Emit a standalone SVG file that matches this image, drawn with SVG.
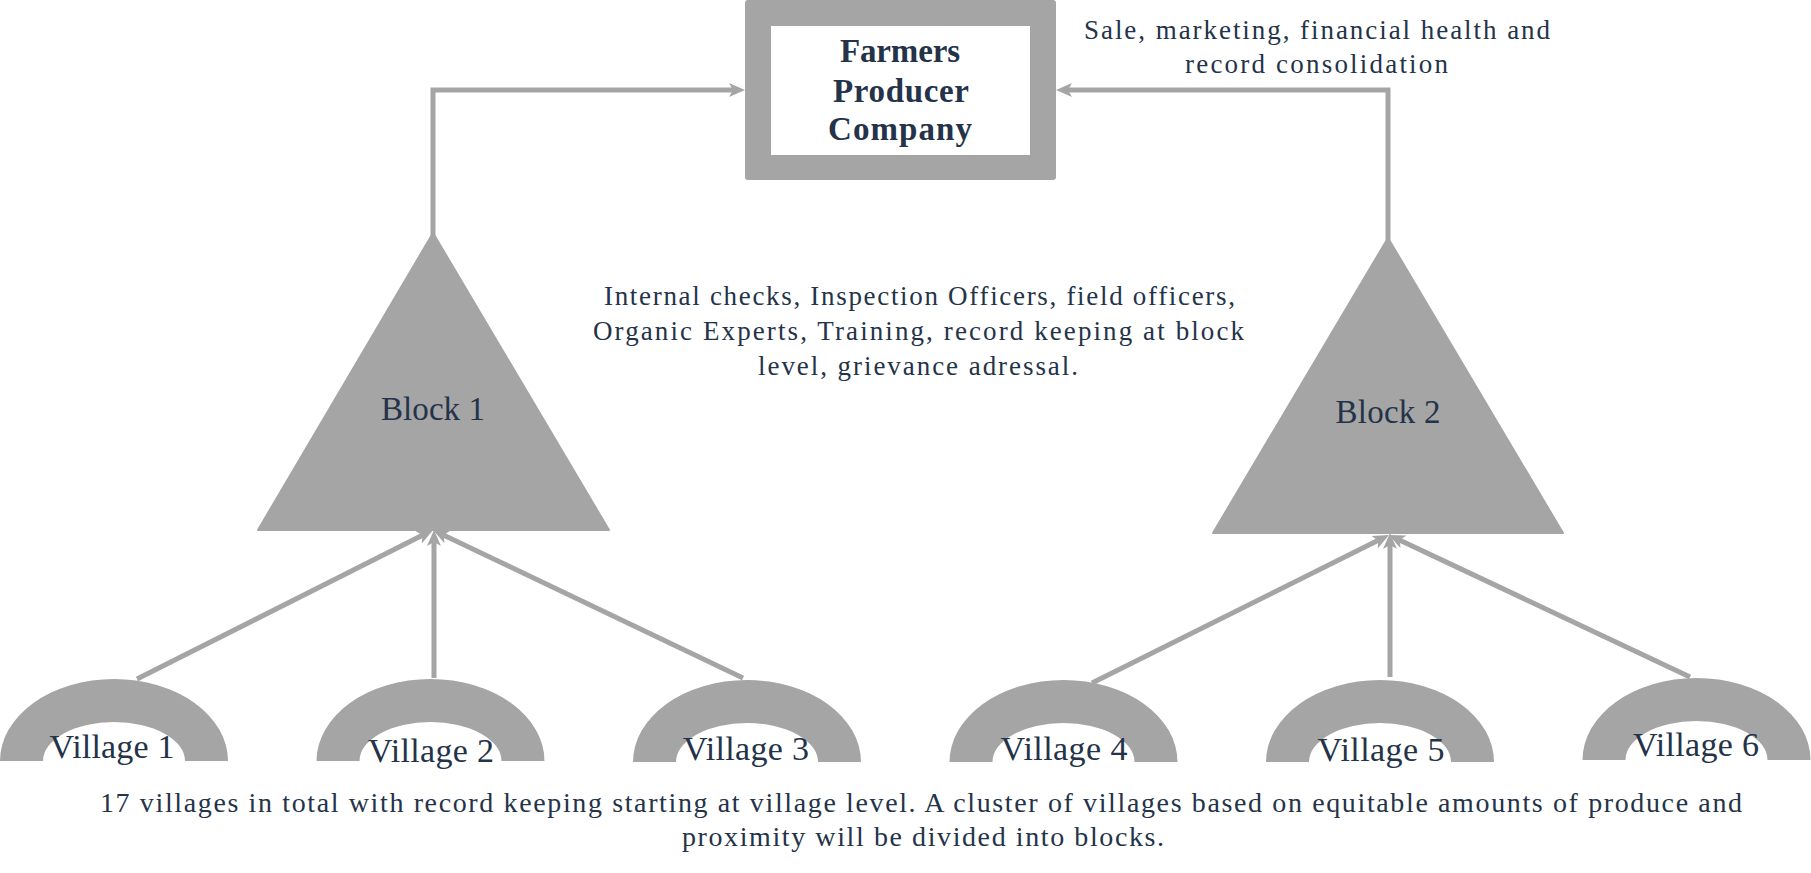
<svg xmlns="http://www.w3.org/2000/svg" width="1811" height="873" viewBox="0 0 1811 873">
  <style>
    .shape { fill: #A5A5A6; }
    .conn { stroke: #A5A5A6; stroke-width: 5; fill: none; }
    .t { font-family: "Liberation Serif", "Times New Roman", serif; fill: #243349; text-anchor: middle; }
    .note { font-size: 27px; }
    .foot { font-size: 28px; }
    .lbl { font-size: 34px; }
    .blk { font-size: 33px; }
    .title { font-size: 33px; font-weight: bold; }
  </style>
  <defs>
    <marker id="arr" markerUnits="userSpaceOnUse" markerWidth="16" markerHeight="16" viewBox="0 0 16 16" refX="8" refY="8" orient="auto">
      <path d="M0,1 L16,8 L0,15 L4,8 z" fill="#A5A5A6"/>
    </marker>
  </defs>
  <rect width="1811" height="873" fill="#ffffff"/>

  <g id="connectors">
    <path class="conn" d="M433,236 V90 H737" marker-end="url(#arr)"/>
    <path class="conn" d="M1388,240 V90 H1064" marker-end="url(#arr)"/>
    <path class="conn" d="M137,679 L425.9,533.6" marker-end="url(#arr)"/>
    <path class="conn" d="M434,678 L434,538" marker-end="url(#arr)"/>
    <path class="conn" d="M743,678 L440.2,533.4" marker-end="url(#arr)"/>
    <path class="conn" d="M1092,683 L1381.8,538.6" marker-end="url(#arr)"/>
    <path class="conn" d="M1390,677 L1390,541" marker-end="url(#arr)"/>
    <path class="conn" d="M1690,677 L1396.2,538.4" marker-end="url(#arr)"/>
  </g>

  <g id="fpc">
    <rect class="shape" x="745" y="0" width="311" height="180" rx="3"/>
    <rect x="771" y="26" width="259" height="129" fill="#ffffff"/>
    <text class="t title" x="900" y="62" textLength="120" lengthAdjust="spacing">Farmers</text>
    <text class="t title" x="901" y="102" textLength="136" lengthAdjust="spacing">Producer</text>
    <text class="t title" x="900" y="140" textLength="144" lengthAdjust="spacing">Company</text>
  </g>

  <g id="note-top">
    <text class="t note" x="1317" y="39" textLength="466" lengthAdjust="spacing">Sale, marketing, financial health and</text>
    <text class="t note" x="1316.5" y="73" textLength="263" lengthAdjust="spacing">record consolidation</text>
  </g>

  <g id="note-mid">
    <text class="t note" x="919.5" y="305" textLength="631" lengthAdjust="spacing">Internal checks, Inspection Officers, field officers,</text>
    <text class="t note" x="918.5" y="340" textLength="651" lengthAdjust="spacing">Organic Experts, Training, record keeping at block</text>
    <text class="t note" x="918" y="375" textLength="320" lengthAdjust="spacing">level, grievance adressal.</text>
  </g>

  <g id="block1">
    <polygon class="shape" points="433,233 609,530 258,530" stroke="#A5A5A6" stroke-width="2" stroke-linejoin="round"/>
    <text class="t blk" x="433" y="420" textLength="104" lengthAdjust="spacing">Block 1</text>
  </g>

  <g id="block2">
    <polygon class="shape" points="1388,238 1563,533 1213,533" stroke="#A5A5A6" stroke-width="2" stroke-linejoin="round"/>
    <text class="t blk" x="1388" y="423" textLength="105" lengthAdjust="spacing">Block 2</text>
  </g>

  <g id="village1">
    <path class="shape" d="M0,761 A114,82 0 0 1 228,761 L185,761 A71,39 0 0 0 43,761 Z"/>
    <text class="t lbl" x="112" y="758" textLength="125" lengthAdjust="spacing">Village 1</text>
  </g>
  <g id="village2">
    <path class="shape" d="M316.5,761 A114,82 0 0 1 544.5,761 L501.5,761 A71,39 0 0 0 359.5,761 Z"/>
    <text class="t lbl" x="431" y="762" textLength="126" lengthAdjust="spacing">Village 2</text>
  </g>
  <g id="village3">
    <path class="shape" d="M633,762 A114,82 0 0 1 861,762 L818,762 A71,39 0 0 0 676,762 Z"/>
    <text class="t lbl" x="746" y="760" textLength="126" lengthAdjust="spacing">Village 3</text>
  </g>
  <g id="village4">
    <path class="shape" d="M949.5,762 A114,82 0 0 1 1177.5,762 L1134.5,762 A71,39 0 0 0 992.5,762 Z"/>
    <text class="t lbl" x="1064" y="760" textLength="127" lengthAdjust="spacing">Village 4</text>
  </g>
  <g id="village5">
    <path class="shape" d="M1266,762 A114,82 0 0 1 1494,762 L1451,762 A71,39 0 0 0 1309,762 Z"/>
    <text class="t lbl" x="1381" y="761" textLength="127" lengthAdjust="spacing">Village 5</text>
  </g>
  <g id="village6">
    <path class="shape" d="M1582.5,760 A114,82 0 0 1 1810.5,760 L1767.5,760 A71,39 0 0 0 1625.5,760 Z"/>
    <text class="t lbl" x="1696" y="756" textLength="126" lengthAdjust="spacing">Village 6</text>
  </g>

  <g id="note-bottom">
    <text class="t foot" x="921" y="812" textLength="1642" lengthAdjust="spacing">17 villages in total with record keeping starting at village level. A cluster of villages based on equitable amounts of produce and</text>
    <text class="t foot" x="923" y="846" textLength="482" lengthAdjust="spacing">proximity will be divided into blocks.</text>
  </g>
</svg>
